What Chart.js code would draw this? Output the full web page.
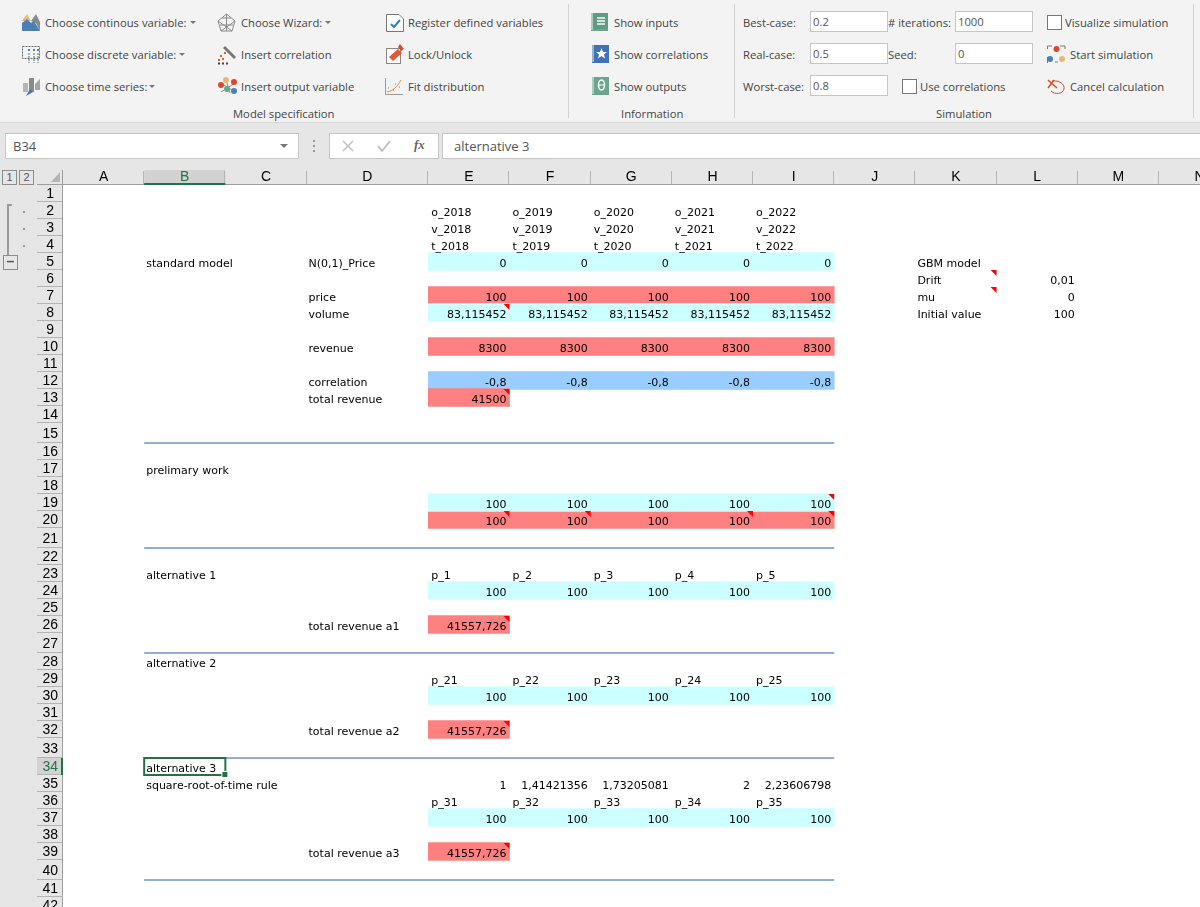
<!DOCTYPE html>
<html>
<head>
<meta charset="utf-8">
<title>Simulation model sheet</title>
<script src="https://cdn.jsdelivr.net/npm/chart.js@4"></script>
<style>
  html, body { margin: 0; padding: 0; background: #fff; overflow: hidden; }
  #app { position: relative; width: 1200px; height: 907px; overflow: hidden; font-family: "Open Sans", sans-serif; font-size: 11.25px; color: #444; }
  #ribbon { position: absolute; left: 0; top: 0; width: 1200px; height: 122px; background: #f3f3f3; border-bottom: 1px solid #d6d6d6; }
  #fbar { position: absolute; left: 0; top: 123px; width: 1200px; height: 42px; background: #e6e6e6; }
  #sheet { position: absolute; left: 0; top: 165px; width: 1200px; height: 742px; }
  .t { position: absolute; line-height: 16px; white-space: nowrap; }
  .sep { position: absolute; top: 4px; width: 1px; height: 114px; background: #d2d2d2; }
  .box { position: absolute; background: #fff; border: 1px solid #c6c6c6; box-sizing: border-box; width: 78px; height: 21px; line-height: 19px; padding-left: 2px; color: #555; }
  .chk { position: absolute; width: 13px; height: 13px; background: #fff; border: 1px solid #777; }
  .caret { position: absolute; width: 0; height: 0; border: 3px solid transparent; border-top: 3px solid #777; }
  svg { position: absolute; overflow: visible; }
  .oln { position: absolute; background: #e6e6e6; border: 1px solid #8c8c8c; box-sizing: border-box; text-align: center; font: 11px/13px "Liberation Sans", sans-serif; color: #555; }
</style>
</head>
<body>
<div id="app">
  <div id="ribbon">
    <svg style="left:22px;top:14px" width="19" height="18"><path d="M0 7 L5 0 L9 7 Z" fill="#e2bd7c"/><path d="M9 7 L14 0 L18 8 L18 17 L14 9 Z" fill="#8a8a8a"/><path d="M0 17 L0 9 L5 5 L9 9 L12 7 L18 17 Z" fill="#4a7fb8"/></svg>
    <div class="t" style="left:45px;top:15px">Choose continous variable:</div><div class="caret" style="left:190px;top:21px"></div>
    <svg style="left:22px;top:46px" width="19" height="18"><rect x=".5" y=".5" width="17" height="12" fill="none" stroke="#666" stroke-dasharray="2 1"/><path d="M7 7V17M12 7V17M16 7V17" stroke="#666" stroke-dasharray="2 1"/><path d="M6 4h2M11 4h2M15 4h2" stroke="#4a7fb8" stroke-width="2"/></svg>
    <div class="t" style="left:45px;top:47px">Choose discrete variable:</div><div class="caret" style="left:179px;top:53px"></div>
    <svg style="left:22px;top:77px" width="19" height="19"><rect x="1" y="6" width="5" height="9" fill="#b5b5b5"/><rect x="7" y="1" width="5" height="14" fill="#8a8a8a"/><path d="M13 7l5-5v11h-5z" fill="#a5a5a5"/><path d="M4 19l4-7 3 3z" fill="#3d78b5"/></svg>
    <div class="t" style="left:45px;top:79px">Choose time series:</div><div class="caret" style="left:149px;top:85px"></div>

    <svg style="left:217px;top:13px" width="19" height="19" fill="none" stroke="#8a8a8a"><path d="M9.5 1L18 8 15 18H4L1 8Z M9.5 1V18 M1 8L15 18 M18 8L4 18 M5 5L14 5 M3 12H16"/></svg>
    <div class="t" style="left:241px;top:15px">Choose Wizard:</div><div class="caret" style="left:325px;top:21px"></div>
    <svg style="left:217px;top:45px" width="20" height="19"><path d="M6 3l2-2 11 11-2 2z" fill="#777"/><path d="M3 11h2M7 8h2M1 15h2M5 14h2" stroke="#d9642b" stroke-width="2"/><path d="M1 18.5h2M5 18.5h2M9 18.5h2" stroke="#444" stroke-width="2"/></svg>
    <div class="t" style="left:241px;top:47px">Insert correlation</div>
    <svg style="left:218px;top:77px" width="20" height="18"><path d="M3 6L17 15M17 6L3 15M8 3l4 13" stroke="#888"/><circle cx="8" cy="3" r="3" fill="#e9b774"/><circle cx="3" cy="8" r="3" fill="#d9492f"/><circle cx="16" cy="5" r="3" fill="#d9492f"/><circle cx="9" cy="12" r="3" fill="#6ba58f"/><circle cx="16" cy="14" r="3" fill="#4a7fb8"/></svg>
    <div class="t" style="left:241px;top:79px">Insert output variable</div>

    <svg style="left:386px;top:14px" width="18" height="18"><path d="M.5.5H13L17.5 5V17.5H.5Z" fill="#fff" stroke="#777"/><path d="M5 10l3 3 6-7" fill="none" stroke="#2f7ec0" stroke-width="2"/></svg>
    <div class="t" style="left:408px;top:15px">Register defined variables</div>
    <svg style="left:386px;top:44px" width="19" height="20"><rect x=".5" y="4.5" width="14" height="15" fill="#fff" stroke="#888"/><path d="M3 13L12 5 16 9 7 17Z" fill="#e0573a"/><path d="M14 0l4 5-3 2-3-4z" fill="#d9492f"/></svg>
    <div class="t" style="left:408px;top:47px">Lock/Unlock</div>
    <svg style="left:385px;top:78px" width="19" height="17" fill="none"><path d="M.5 0V16.5H18" stroke="#999"/><path d="M2 14C8 13 12 9 16 2" stroke="#e58a3c"/><path d="M3 10h1M8 12h1M10 6h1M14 9h1" stroke="#777"/></svg>
    <div class="t" style="left:408px;top:79px">Fit distribution</div>
    <div class="t" style="left:233px;top:106px">Model specification</div>
    <div class="sep" style="left:568px"></div>

    <svg style="left:591px;top:13px" width="17" height="18"><rect width="17" height="18" fill="#6ba58f"/><rect x="2" width="15" height="16" fill="#5f9c86"/><path d="M6 5h8M6 8h8M6 11h8" stroke="#d5e6df" stroke-width="2"/><path d="M1 0v17" stroke="#f3f3f3"/></svg>
    <div class="t" style="left:614px;top:15px">Show inputs</div>
    <svg style="left:592px;top:45px" width="17" height="18"><rect width="17" height="18" fill="#3f73b3"/><path d="M1 0v17" stroke="#f3f3f3"/><path d="M9.500 3l1.500 4h4l-3 2.500 1 4-3.500-2.500-3.500 2.500 1-4-3-2.500h4z" fill="#fff"/></svg>
    <div class="t" style="left:614px;top:47px">Show correlations</div>
    <svg style="left:592px;top:77px" width="17" height="18"><rect width="17" height="18" fill="#6ba58f"/><path d="M1 0v17" stroke="#f3f3f3"/><ellipse cx="9.500" cy="8" rx="3" ry="5" fill="none" stroke="#fff" stroke-width="1.500"/><path d="M7 8h5" stroke="#fff"/></svg>
    <div class="t" style="left:614px;top:79px">Show outputs</div>
    <div class="t" style="left:621px;top:106px">Information</div>
    <div class="sep" style="left:734px"></div>

    <div class="t" style="left:743px;top:15px">Best-case:</div><div class="box" style="left:810px;top:11px">0.2</div>
    <div class="t" style="left:743px;top:47px">Real-case:</div><div class="box" style="left:810px;top:43px">0.5</div>
    <div class="t" style="left:743px;top:79px">Worst-case:</div><div class="box" style="left:810px;top:75px">0.8</div>
    <div class="t" style="left:888px;top:15px"># iterations:</div><div class="box" style="left:955px;top:11px">1000</div>
    <div class="t" style="left:888px;top:47px">Seed:</div><div class="box" style="left:955px;top:43px">0</div>
    <div class="chk" style="left:902px;top:79px"></div><div class="t" style="left:920px;top:79px">Use correlations</div>
    <div class="chk" style="left:1047px;top:15px"></div><div class="t" style="left:1065px;top:15px">Visualize simulation</div>
    <svg style="left:1047px;top:45px" width="19" height="19" fill="none"><path d="M.5 4V1H5M13 1H18V4M.5 12V18M8 17H11" stroke="#777"/><circle cx="9.500" cy="4" r="3" fill="#d9492f"/><circle cx="3" cy="14" r="3" fill="#4a7fb8"/><circle cx="15" cy="14" r="3" fill="#e9b774"/></svg>
    <div class="t" style="left:1070px;top:47px">Start simulation</div>
    <svg style="left:1046px;top:78px" width="19" height="17" fill="none" stroke="#d9492f"><path d="M2 2L11 10M2 10L8 2" stroke-width="1.500"/><path d="M6 3C13 2 19 6 18 11 17 16 9 17 5 13"/></svg>
    <div class="t" style="left:1070px;top:79px">Cancel calculation</div>
    <div class="t" style="left:936px;top:106px">Simulation</div>
    <div class="sep" style="left:1193px"></div>
  </div>

  <div id="fbar">
    <div class="box" style="left:5px;top:10px;width:294px;height:26px;line-height:24px;padding-left:7px;font-size:13px">B34</div>
    <div class="caret" style="left:280px;top:21px;border-width:4px;border-top-width:4px"></div>
    <svg style="left:313px;top:17px" width="3" height="12"><path d="M1 0v2M1 5v2M1 10v2" stroke="#999" stroke-width="2"/></svg>
    <div class="box" style="left:329px;top:10px;width:110px;height:26px"></div>
    <svg style="left:342px;top:17px" width="12" height="12"><path d="M1 1L11 11M11 1L1 11" stroke="#c0c0c0" stroke-width="1.500"/></svg>
    <svg style="left:377px;top:17px" width="14" height="12"><path d="M1 6L5 11 13 1" fill="none" stroke="#c0c0c0" stroke-width="2"/></svg>
    <div class="t" style="left:414px;top:14px;font:italic bold 13px 'Liberation Serif',serif;color:#666">fx</div>
    <div class="box" style="left:442px;top:10px;width:770px;height:26px;line-height:24px;padding-left:11px;font-size:13px">alternative 3</div>
  </div>

  <div id="sheet"><canvas id="grid"></canvas></div>

  <!-- outline gutter -->
  <div class="oln" style="left:2px;top:170px;width:15px;height:15px">1</div>
  <div class="oln" style="left:19px;top:170px;width:15px;height:15px">2</div>
  <svg style="left:51px;top:172px" width="10" height="11"><path d="M9 0V10H0Z" fill="#b5b5b5"/></svg>
  <svg style="left:0;top:200px" width="36" height="72">
    <path d="M12 5H8V55" fill="none" stroke="#999" stroke-width="2"/>
    <path d="M24 11v2M24 28v2M24 45v2" stroke="#999" stroke-width="2"/>
  </svg>
  <div class="oln" style="left:3px;top:255px;width:15px;height:15px;line-height:11px;font-weight:bold;font-size:14px">–</div>
</div>

<script>
// sheet data
const columnNames = ['A', 'B', 'C', 'D', 'E', 'F', 'G', 'H', 'I', 'J', 'K', 'L', 'M', 'N'];
const columnSpans = [1, 1, 1, 1.5, 1, 1, 1, 1, 1, 1, 1, 1, 1, 1];
const rowNumbers = Array.from({ length: 42 }, (_, i) => i + 1);
const tallRows = [15, 21, 27, 33, 40];
const yearColumns = ['E', 'F', 'G', 'H', 'I'];

const outputCodes = ['o_2018', 'o_2019', 'o_2020', 'o_2021', 'o_2022'];
const volumeCodes = ['v_2018', 'v_2019', 'v_2020', 'v_2021', 'v_2022'];
const timeCodes = ['t_2018', 't_2019', 't_2020', 't_2021', 't_2022'];
const normalPrice = ['0', '0', '0', '0', '0'];
const price = ['100', '100', '100', '100', '100'];
const volume = ['83,115452', '83,115452', '83,115452', '83,115452', '83,115452'];
const revenue = ['8300', '8300', '8300', '8300', '8300'];
const correlation = ['-0,8', '-0,8', '-0,8', '-0,8', '-0,8'];
const totalRevenue = ['41500'];
const prelimTop = ['100', '100', '100', '100', '100'];
const prelimBottom = ['100', '100', '100', '100', '100'];
const alt1Names = ['p_1', 'p_2', 'p_3', 'p_4', 'p_5'];
const alt1Values = ['100', '100', '100', '100', '100'];
const alt1Total = ['41557,726'];
const alt2Names = ['p_21', 'p_22', 'p_23', 'p_24', 'p_25'];
const alt2Values = ['100', '100', '100', '100', '100'];
const alt2Total = ['41557,726'];
const alt3Roots = ['1', '1,41421356', '1,73205081', '2', '2,23606798'];
const alt3Names = ['p_31', 'p_32', 'p_33', 'p_34', 'p_35'];
const alt3Values = ['100', '100', '100', '100', '100'];
const alt3Total = ['41557,726'];

const labelCells = [
  ['B', 5, 'standard model'], ['D', 5, 'N(0,1)_Price'], ['D', 7, 'price'], ['D', 8, 'volume'],
  ['D', 10, 'revenue'], ['D', 12, 'correlation'], ['D', 13, 'total revenue'],
  ['B', 17, 'prelimary work'], ['B', 23, 'alternative 1'], ['D', 26, 'total revenue a1'],
  ['B', 28, 'alternative 2'], ['D', 32, 'total revenue a2'], ['B', 34, 'alternative 3'],
  ['B', 35, 'square-root-of-time rule'], ['D', 39, 'total revenue a3'],
  ['K', 5, 'GBM model'], ['K', 6, 'Drift'], ['K', 7, 'mu'], ['K', 8, 'Initial value'],
];
const gbmValues = [[6, '0,01'], [7, '0'], [8, '100']];
const commentCells = [['E', 8], ['E', 13], ['K', 6], ['K', 7], ['I', 19], ['E', 20], ['F', 20], ['H', 20], ['I', 20], ['E', 26], ['E', 32], ['E', 39]];

const cyanRows = [[5, normalPrice], [8, volume], [19, prelimTop], [24, alt1Values], [30, alt2Values], [37, alt3Values]];
const redRows = [[7, price], [10, revenue], [13, totalRevenue], [20, prelimBottom], [26, alt1Total], [32, alt2Total], [39, alt3Total]];
const blueRows = [[12, correlation]];
const headerRows = [[2, outputCodes], [3, volumeCodes], [4, timeCodes], [23, alt1Names], [29, alt2Names], [36, alt3Names]];

/* Column and row geometry in scale units */
const colStart = (name) => columnSpans.slice(0, columnNames.indexOf(name)).reduce((a, b) => a + b, 0);
const colEnd = (name) => colStart(name) + columnSpans[columnNames.indexOf(name)];
const rowSpan = (r) => (tallRows.includes(r) ? 20 / 17 : 1);
const rowTop = (r) => rowNumbers.slice(0, r - 1).reduce((a, n) => a + rowSpan(n), 0);
const rowMid = (r) => rowTop(r) + rowSpan(r) / 2;

const fillCells = (rows) => rows.flatMap(([r, vals]) => vals.map((_, i) => ({
  x: [colStart(yearColumns[i]), colEnd(yearColumns[i])], y: rowMid(r),
})));

function barSet(rows, color) {
  return { type: 'bar', data: fillCells(rows), backgroundColor: color, barThickness: 18, grouped: false, borderWidth: 0, borderSkipped: false, order: 2 };
}
function sectionLine(r) {
  return {
    type: 'line', data: [{ x: colStart('B'), y: rowTop(r + 1) }, { x: colEnd('I'), y: rowTop(r + 1) }],
    borderColor: '#93aed3', borderWidth: 2, pointRadius: 0, order: 1, indexAxis: 'x',
  };
}

const CELL_FONT = '11px "DejaVu Sans"';
const sheetPlugin = {
  id: 'sheetPlugin',
  beforeDraw(chart) {
    const { ctx, chartArea: a, scales: { x, y } } = chart;
    ctx.save();
    ctx.fillStyle = '#e6e6e6';
    ctx.fillRect(0, 0, chart.width, a.top);
    ctx.fillRect(0, 0, a.left, chart.height);
    // selected row and column headers
    ctx.fillStyle = '#d2d2d2';
    const bl = x.getPixelForValue(colStart('B')), br = x.getPixelForValue(colEnd('B'));
    ctx.fillRect(bl, 5, br - bl, a.top - 5);
    const st = y.getPixelForValue(rowTop(34)), sb = y.getPixelForValue(rowTop(35));
    ctx.fillRect(37, st, a.left - 37, sb - st);
    // header separators
    ctx.strokeStyle = '#b4b4b4';
    ctx.beginPath();
    columnNames.forEach((c) => {
      const px = Math.round(x.getPixelForValue(colEnd(c))) - 0.5;
      ctx.moveTo(px, 6); ctx.lineTo(px, a.top - 1);
    });
    rowNumbers.forEach((r) => {
      const py = Math.round(y.getPixelForValue(rowTop(r + 1))) - 0.5;
      ctx.moveTo(37, py); ctx.lineTo(a.left, py);
    });
    ctx.stroke();
    ctx.fillStyle = '#9e9e9e';
    ctx.fillRect(37, a.top - 1, chart.width, 1);
    ctx.fillRect(a.left - 1, 5, 1, chart.height);
    ctx.fillStyle = '#217346';
    ctx.fillRect(bl, a.top - 2, br - bl, 2);
    ctx.fillRect(a.left - 2, st, 2, sb - st);
    ctx.restore();
  },
  afterDatasetsDraw(chart) {
    const { ctx, scales: { x, y } } = chart;
    const baseline = (r) => y.getPixelForValue(rowTop(r + 1)) - 3;
    const left = (c, r, t, pad) => ctx.fillText(t, x.getPixelForValue(colStart(c)) + pad, baseline(r));
    const right = (c, r, t) => ctx.fillText(t, x.getPixelForValue(colEnd(c)) - 3, baseline(r));
    ctx.save();
    ctx.font = CELL_FONT;
    ctx.fillStyle = '#000';
    ctx.textAlign = 'left';
    labelCells.forEach(([c, r, t]) => left(c, r, t, 2));
    headerRows.forEach(([r, vals]) => vals.forEach((t, i) => left(yearColumns[i], r, t, 3)));
    ctx.textAlign = 'right';
    [...cyanRows, ...redRows, ...blueRows, [35, alt3Roots]].forEach(([r, vals]) => vals.forEach((t, i) => right(yearColumns[i], r, t)));
    gbmValues.forEach(([r, t]) => right('L', r, t));
    // comment markers
    ctx.fillStyle = '#ff0000';
    commentCells.forEach(([c, r]) => {
      const px = x.getPixelForValue(colEnd(c)), py = y.getPixelForValue(rowTop(r));
      ctx.beginPath();
      ctx.moveTo(px - 6, py); ctx.lineTo(px, py); ctx.lineTo(px, py + 6);
      ctx.closePath();
      ctx.fill();
    });
    // active cell
    const sl = x.getPixelForValue(colStart('B')), sr = x.getPixelForValue(colEnd('B'));
    const st = y.getPixelForValue(rowTop(34)), sb = y.getPixelForValue(rowTop(35));
    ctx.strokeStyle = '#217346';
    ctx.lineWidth = 2;
    ctx.strokeRect(sl, st, sr - sl, sb - st);
    ctx.fillStyle = '#fff';
    ctx.fillRect(sr - 4, sb - 4, 7, 7);
    ctx.fillStyle = '#217346';
    ctx.fillRect(sr - 3, sb - 3, 5, 5);
    ctx.restore();
  },
};

// the first and last labels sit on the canvas edge, so no margin may be reserved for them
function noMargins(s) {
  s.paddingLeft = s.paddingRight = s.paddingTop = s.paddingBottom = 0;
}

new Chart(document.getElementById('grid'), {
  type: 'bar',
  data: {
    datasets: [
      barSet(cyanRows, '#ccffff'),
      barSet(redRows, '#ff8080'),
      barSet(blueRows, '#99ccff'),
      ...tallRows.map(sectionLine),
    ],
  },
  options: {
    indexAxis: 'y',
    responsive: true,
    maintainAspectRatio: false,
    animation: false,
    events: [],
    layout: { padding: 0 },
    plugins: { legend: { display: false }, tooltip: { enabled: false } },
    scales: {
      x: {
        type: 'linear', position: 'top', min: 0, max: 14.006,
        grid: { display: false, drawTicks: false }, border: { display: false },
        afterFit: (s) => { s.height = 20; noMargins(s); },
        afterBuildTicks: (s) => { s.ticks = columnNames.map((c) => ({ value: (colStart(c) + colEnd(c)) / 2 })); },
        ticks: {
          autoSkip: false, maxRotation: 0, padding: -1,
          font: { family: 'Liberation Sans', size: 14 },
          color: (c) => (c.index === 1 ? '#217346' : '#000'),
          callback: (v, i) => columnNames[i],
        },
      },
      y: {
        // a bar chart's index axis defaults to offset: true, which would shift every row
        type: 'linear', position: 'left', reverse: true, offset: false, min: 0, max: 722 / 17,
        grid: { display: false, drawTicks: false, offset: false }, border: { display: false },
        afterFit: (s) => { s.width = 63; noMargins(s); },
        afterBuildTicks: (s) => { s.ticks = rowNumbers.map((r) => ({ value: rowMid(r) + 1 / 17 })); },
        ticks: {
          autoSkip: false, padding: 5, crossAlign: 'center',
          font: { family: 'Liberation Sans', size: 14 },
          color: (c) => (c.index === 33 ? '#217346' : '#000'),
          callback: (v, i) => String(rowNumbers[i]),
        },
      },
    },
  },
  plugins: [sheetPlugin],
});
</script>
</body>
</html>
